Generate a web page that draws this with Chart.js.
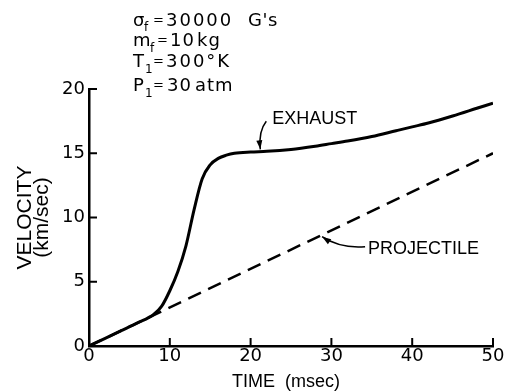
<!DOCTYPE html>
<html>
<head>
<meta charset="utf-8">
<script src="https://cdn.jsdelivr.net/npm/chart.js@4"></script>
<style>
  body { margin: 0; background: #fff; }
</style>
</head>
<body>
<canvas id="myChart" width="506" height="392"></canvas>
<script>
let exhaustTime = [0, 2, 4, 6, 8, 9, 10, 11, 12, 13, 14, 15, 16, 17, 18, 20, 22, 25, 28, 30, 32, 35, 38, 40, 42, 45, 48, 50];
let exhaustVelocity = [0, 0.6, 1.2, 1.8, 2.45, 3.1, 4.3, 5.8, 7.8, 10.6, 13.0, 14.1, 14.6, 14.85, 15.0, 15.1, 15.15, 15.3, 15.55, 15.75, 15.95, 16.3, 16.75, 17.05, 17.35, 17.9, 18.5, 18.9];
let projectileTime = [0, 50];
let projectileVelocity = [0, 15];
let timeTicks = [0, 10, 20, 30, 40, 50];
let velocityTicks = [0, 5, 10, 15, 20];

function toPoints(xs, ys) {
  let points = [];
  for (let i = 0; i < xs.length; i++) {
    points.push({ x: xs[i], y: ys[i] });
  }
  return points;
}

function drawText(ctx, text, x, y, font, spacing, align) {
  ctx.font = font;
  ctx.letterSpacing = spacing + "px";
  ctx.textAlign = align || "left";
  ctx.textBaseline = "alphabetic";
  ctx.fillText(text, x, y);
}

function drawArrow(ctx, sx, sy, cx, cy, tx, ty) {
  ctx.beginPath();
  ctx.moveTo(sx, sy);
  ctx.quadraticCurveTo(cx, cy, tx, ty);
  ctx.lineWidth = 1.5;
  ctx.stroke();
  // arrow head, pointing along the last bit of the curve
  let a = Math.atan2(ty - cy, tx - cx);
  ctx.beginPath();
  ctx.moveTo(tx, ty);
  ctx.lineTo(tx - 9 * Math.cos(a) + 3 * Math.sin(a), ty - 9 * Math.sin(a) - 3 * Math.cos(a));
  ctx.lineTo(tx - 9 * Math.cos(a) - 3 * Math.sin(a), ty - 9 * Math.sin(a) + 3 * Math.cos(a));
  ctx.closePath();
  ctx.fill();
}

const sans = "DejaVu Sans";
const arial = "Liberation Sans";

const annotations = {
  id: "annotations",
  afterDraw(chart) {
    const ctx = chart.ctx;
    const x = chart.scales.x;
    const y = chart.scales.y;
    const area = chart.chartArea;
    ctx.save();
    ctx.fillStyle = "#000";
    ctx.strokeStyle = "#000";

    // tick marks point into the plot
    ctx.lineWidth = 2;
    for (let i = 1; i < velocityTicks.length; i++) {
      let py = y.getPixelForValue(velocityTicks[i]);
      ctx.beginPath();
      ctx.moveTo(area.left, py);
      ctx.lineTo(area.left + 8, py);
      ctx.stroke();
    }
    for (let i = 1; i < timeTicks.length; i++) {
      let px = x.getPixelForValue(timeTicks[i]);
      ctx.beginPath();
      ctx.moveTo(px, area.bottom);
      ctx.lineTo(px, area.bottom - 8);
      ctx.stroke();
    }

    // parameter block
    const big = "18px '" + sans + "'";
    const sub = "12px '" + sans + "'";
    const eq = "13px '" + sans + "'";
    drawText(ctx, "\u03c3", 133, 26, big, 0);
    drawText(ctx, "f", 144, 31, sub, 0);
    drawText(ctx, "=", 153, 24, eq, 0);
    drawText(ctx, "30000", 166, 26, big, 2);
    drawText(ctx, "G's", 248, 26, big, 0.5);

    drawText(ctx, "m", 133, 46, big, 0);
    drawText(ctx, "f", 150, 52, sub, 0);
    drawText(ctx, "=", 157, 44, eq, 0);
    drawText(ctx, "10", 170, 46, big, 1);
    drawText(ctx, "kg", 197, 46, big, 1);

    drawText(ctx, "T", 133, 67, big, 0);
    drawText(ctx, "1", 145, 73, sub, 0);
    drawText(ctx, "=", 153, 65, eq, 0);
    drawText(ctx, "300\u00b0K", 166, 67, big, 2);

    drawText(ctx, "P", 133, 91, big, 0);
    drawText(ctx, "1", 145, 97, sub, 0);
    drawText(ctx, "=", 153, 89, eq, 0);
    drawText(ctx, "30", 167, 91, big, 1);
    drawText(ctx, "atm", 195, 91, big, 1);

    // curve labels with arrows
    const lab = "18px '" + arial + "'";
    let ex = x.getPixelForValue(21.2);
    let ey = y.getPixelForValue(15.15);
    drawArrow(ctx, ex + 6, ey - 30, ex - 2, ey - 20, ex, ey - 2);
    drawText(ctx, "EXHAUST", ex + 12, ey - 27, lab, 0);

    let px = x.getPixelForValue(28.6);
    let py = y.getPixelForValue(8.58);
    drawArrow(ctx, px + 45, py + 11, px + 20, py + 13, px + 2, py + 1);
    drawText(ctx, "PROJECTILE", px + 48, py + 18, lab, 0);

    // axis titles
    drawText(ctx, "TIME  (msec)", (area.left + area.right) / 2 - 5, 387, "18px '" + arial + "'", 0, "center");
    let my = (area.top + area.bottom) / 2;
    ctx.translate(0, my);
    ctx.rotate(-Math.PI / 2);
    drawText(ctx, "VELOCITY", 0, 31, "21px '" + arial + "'", 0, "center");
    drawText(ctx, "(km/sec)", 0, 48, "21px '" + arial + "'", 0, "center");
    ctx.restore();
  },
};

function showChart() {
  const ctx = document.getElementById("myChart").getContext("2d");

  const myChart = new Chart(ctx, {
    type: "line",
    data: {
      datasets: [
        {
          label: "Exhaust",
          data: toPoints(exhaustTime, exhaustVelocity),
          borderColor: "#000",
          borderWidth: 3,
          pointRadius: 0,
          cubicInterpolationMode: "monotone",
        },
        {
          label: "Projectile",
          data: toPoints(projectileTime, projectileVelocity),
          borderColor: "#000",
          borderWidth: 2.5,
          borderDash: [14, 8],
          pointRadius: 0,
        },
      ],
    },
    options: {
      responsive: false,
      animation: false,
      devicePixelRatio: 1,
      layout: { padding: { top: 89, right: 13, left: 0, bottom: 0 } },
      plugins: { legend: { display: false }, tooltip: { enabled: false } },
      scales: {
        x: {
          type: "linear",
          min: 0,
          max: 50,
          afterBuildTicks: (scale) => {
            scale.ticks = timeTicks.map((v) => ({ value: v }));
          },
          afterFit: (scale) => {
            scale.height = 46;
          },
          grid: { display: false, drawTicks: false },
          border: { display: true, color: "#000", width: 2.5 },
          ticks: { color: "#000", padding: 0, maxRotation: 0, font: { family: sans, size: 18 } },
        },
        y: {
          min: 0,
          max: 20,
          afterBuildTicks: (scale) => {
            scale.ticks = velocityTicks.map((v) => ({ value: v }));
          },
          afterFit: (scale) => {
            scale.width = 89;
          },
          grid: { display: false, drawTicks: false },
          border: { display: true, color: "#000", width: 2.5 },
          ticks: { color: "#000", padding: 4, font: { family: sans, size: 18 } },
        },
      },
    },
    plugins: [annotations],
  });
}

showChart();
</script>
</body>
</html>
